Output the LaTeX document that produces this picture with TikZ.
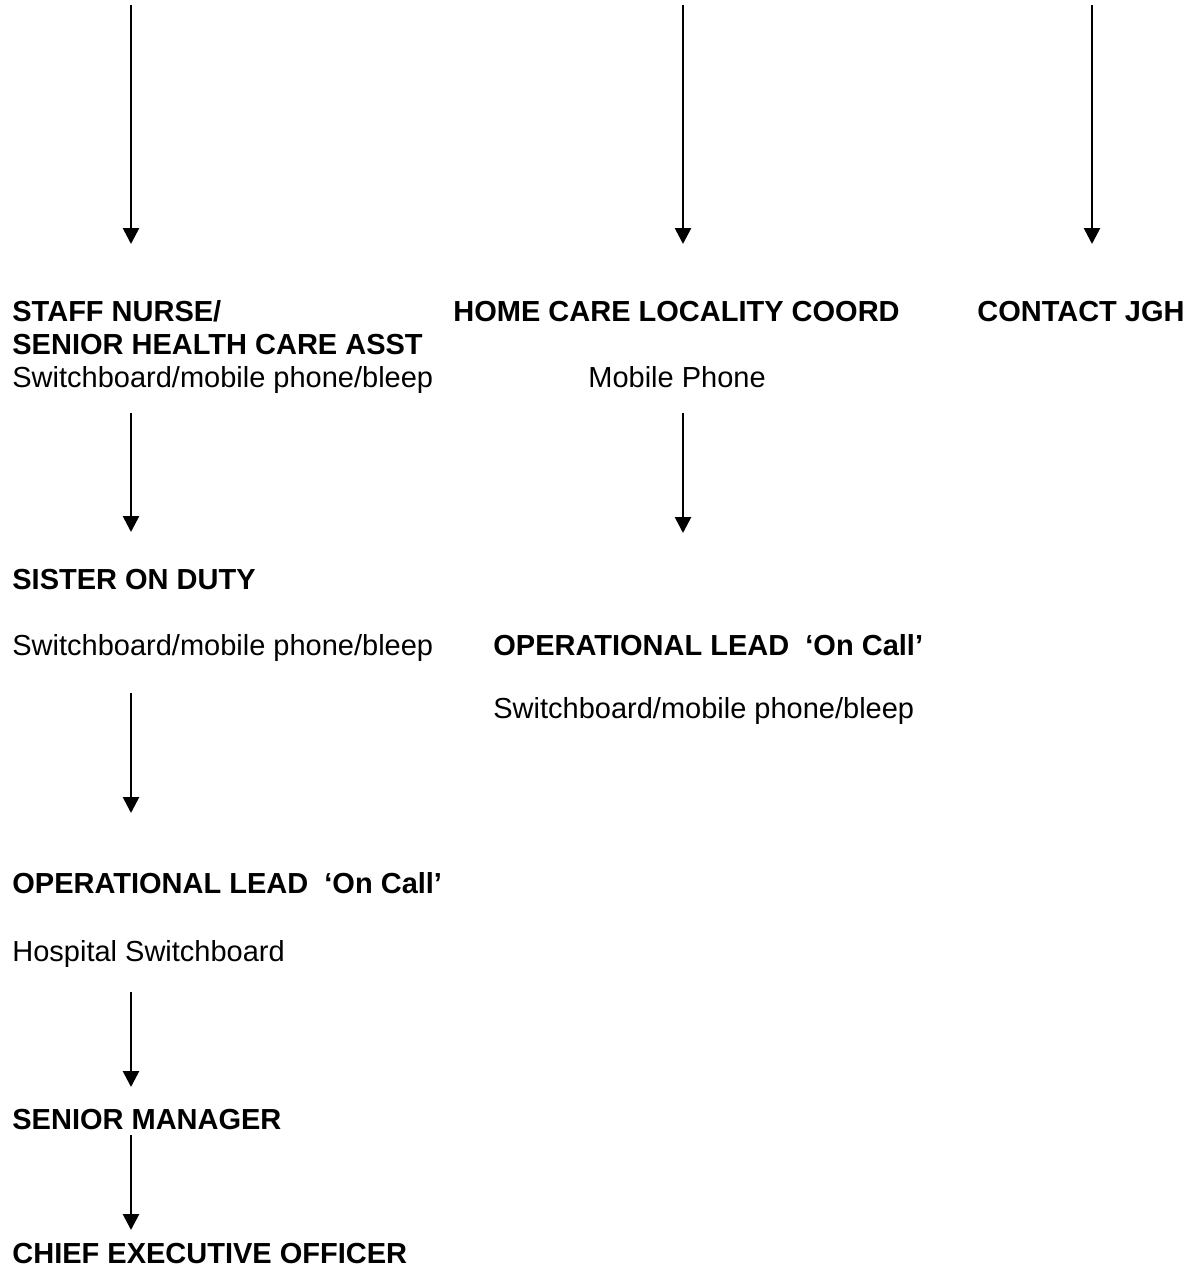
\documentclass[tikz,border=0pt]{standalone}
\usepackage{fontspec}
\setmainfont{Liberation Sans}
\usetikzlibrary{arrows.meta}
\begin{document}
\begin{tikzpicture}[x=0.5pt,y=-0.5pt,
  lbl/.style={anchor=base west,inner sep=0pt,font=\fontsize{14.5pt}{17pt}\selectfont},
  hd/.style={lbl,font=\fontsize{14.5pt}{17pt}\selectfont\bfseries},
  arr/.style={line width=1.35pt,-{Triangle[width=8pt,length=8pt]}}]
\useasboundingbox (0,0) rectangle (1192,1270);
% column coordinates
\coordinate (col1) at (131,0);
\coordinate (col2) at (683,0);
\coordinate (col3) at (1092,0);
\coordinate (top1) at (131,5);
\coordinate (top2) at (683,5);
\coordinate (top3) at (1092,5);
% nodes
\node[hd] (staffA) at (12,321) {STAFF NURSE/};
\node[hd] (staffB) at (12,354) {SENIOR HEALTH CARE ASST};
\node[lbl] (sw1) at (12,387) {Switchboard/mobile phone/bleep};
\node[hd] (home) at (453,321) {HOME CARE LOCALITY COORD};
\node[hd,anchor=base east] (contact) at (1185,321) {CONTACT JGH};
\node[lbl] (mobile) at (588,387) {Mobile Phone};
\node[hd] (sister) at (12,589) {SISTER ON DUTY};
\node[lbl] (sw2) at (12,655) {Switchboard/mobile phone/bleep};
\node[hd] (oplead2) at (493,655) {OPERATIONAL LEAD\ \ ‘On Call’};
\node[lbl] (sw3) at (493,718) {Switchboard/mobile phone/bleep};
\node[hd] (oplead1) at (12,893) {OPERATIONAL LEAD\ \ ‘On Call’};
\node[lbl] (hosp) at (12,961) {Hospital Switchboard};
\node[hd] (senior) at (12,1129) {SENIOR MANAGER};
\node[hd] (ceo) at (12,1263) {CHIEF EXECUTIVE OFFICER};
% connectors
\draw[arr,shorten >=38.5pt] (top1) -- (top1 |- staffA.base);
\draw[arr,shorten >=38.5pt] (top2) -- (top2 |- home.base);
\draw[arr,shorten >=38.5pt] (top3) -- (top3 |- contact.base);
\draw[arr,shorten <=13pt,shorten >=28.5pt] (col1 |- sw1.base) -- (col1 |- sister.base);
\draw[arr,shorten <=13pt,shorten >=61pt] (col2 |- mobile.base) -- (col2 |- oplead2.base);
\draw[arr,shorten <=19pt,shorten >=40pt] (col1 |- sw2.base) -- (col1 |- oplead1.base);
\draw[arr,shorten <=15.5pt,shorten >=21pt] (col1 |- hosp.base) -- (col1 |- senior.base);
\draw[arr,shorten <=3pt,shorten >=16.5pt] (col1 |- senior.base) -- (col1 |- ceo.base);
\end{tikzpicture}
\end{document}
